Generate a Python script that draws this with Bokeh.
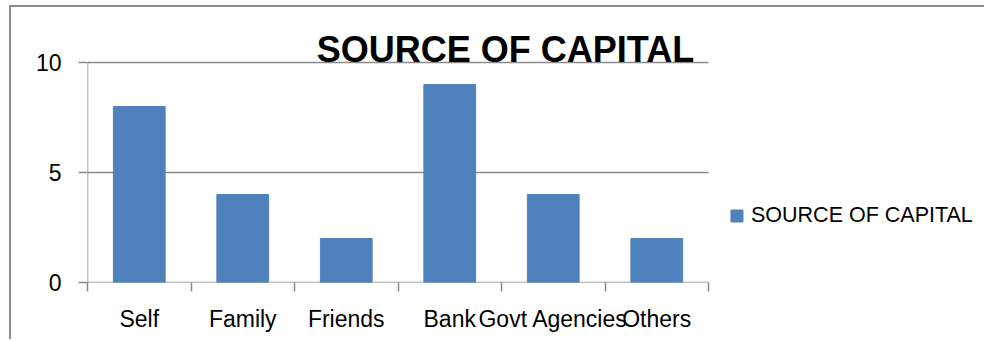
from bokeh.plotting import figure
from bokeh.models import Range1d, FixedTicker, Label, Legend, LegendItem, ColumnDataSource
from bokeh.embed import file_html
from bokeh.resources import INLINE

categories = ["Self", "Family", "Friends", "Bank", "Govt Agencies", "Others"]
values = [8, 4, 2, 9, 4, 2]
y_ticks = [0, 5, 10]
y_max = 10
title_text = "SOURCE OF CAPITAL"
series_name = "SOURCE OF CAPITAL"

n = len(categories)
centers = [i + 0.5 for i in range(n)]
source = ColumnDataSource(dict(x=centers, top=values, cat=categories))

FONT = "Liberation Sans"
GRAY = "#8a8a8a"

# layout (pixels)
W, H = 975, 334
LEFT, BOTTOM = 76, 59
PX_PER_CAT, PX_PER_UNIT = 103.5, 22.0
frame_w, frame_h = W - LEFT, H - BOTTOM

p = figure(width=W, height=H,
           x_range=Range1d(0, frame_w / PX_PER_CAT), y_range=Range1d(0, frame_h / PX_PER_UNIT),
           output_backend="svg", toolbar_location=None,
           min_border_left=LEFT, min_border_right=0, min_border_top=0, min_border_bottom=BOTTOM)
p.styles = {"margin-left": "9px", "margin-top": "5px",
            "border-left": "2px solid #8c8c8c", "border-top": "2px solid #8c8c8c"}
p.outline_line_color = None
p.background_fill_color = "white"
p.border_fill_color = "white"
p.xgrid.grid_line_color = None
p.ygrid.grid_line_color = None

# gridlines and axis lines limited to the data area
grid_y = [t for t in y_ticks if t > 0]
p.segment(x0=[0] * len(grid_y), x1=[n] * len(grid_y), y0=grid_y, y1=grid_y,
          line_color=GRAY, line_width=1.5)
p.segment(x0=[0, 0], x1=[n, 0], y0=[0, 0], y1=[0, y_max], line_color=GRAY, line_width=1.5)

r = p.vbar(x="x", top="top", width=0.5, source=source, fill_color="#4f81bd", line_color="#4f81bd")

# y axis
p.yaxis.ticker = FixedTicker(ticks=y_ticks)
p.yaxis.axis_line_color = None
p.yaxis.major_tick_line_color = GRAY
p.yaxis.major_tick_line_width = 1.5
p.yaxis.major_tick_out = 9
p.yaxis.major_tick_in = 0
p.yaxis.minor_tick_line_color = None
p.yaxis.major_label_standoff = 17
p.yaxis.major_label_text_font = FONT
p.yaxis.major_label_text_font_size = "23px"
p.yaxis.major_label_text_color = "black"

# x axis: labels at centres, ticks at boundaries
p.xaxis.ticker = FixedTicker(ticks=centers, minor_ticks=list(range(n + 1)))
p.xaxis.major_label_overrides = {c: cat for c, cat in zip(centers, categories)}
p.xaxis.axis_line_color = None
p.xaxis.major_tick_line_color = None
p.xaxis.major_tick_out = 0
p.xaxis.major_tick_in = 0
p.xaxis.minor_tick_line_color = GRAY
p.xaxis.minor_tick_line_width = 1.5
p.xaxis.minor_tick_out = 9
p.xaxis.minor_tick_in = 0
p.xaxis.major_label_standoff = 14
p.xaxis.major_label_text_font = FONT
p.xaxis.major_label_text_font_size = "23px"
p.xaxis.major_label_text_color = "black"

title = Label(x=418, y=233, x_units="screen", y_units="screen", text=title_text,
              text_align="center", text_baseline="alphabetic",
              text_font=FONT, text_font_style="bold", text_font_size="36px", text_color="black")
p.add_layout(title)

legend = Legend(items=[LegendItem(label=series_name, renderers=[r])], location=(642, 54),
                glyph_width=15, glyph_height=15, label_standoff=7, padding=0, margin=0, spacing=0,
                border_line_color=None, background_fill_alpha=0,
                label_text_font=FONT, label_text_font_size="21.5px", label_text_color="black")
p.add_layout(legend, "center")

open("out.html", "w").write(file_html(p, INLINE))
